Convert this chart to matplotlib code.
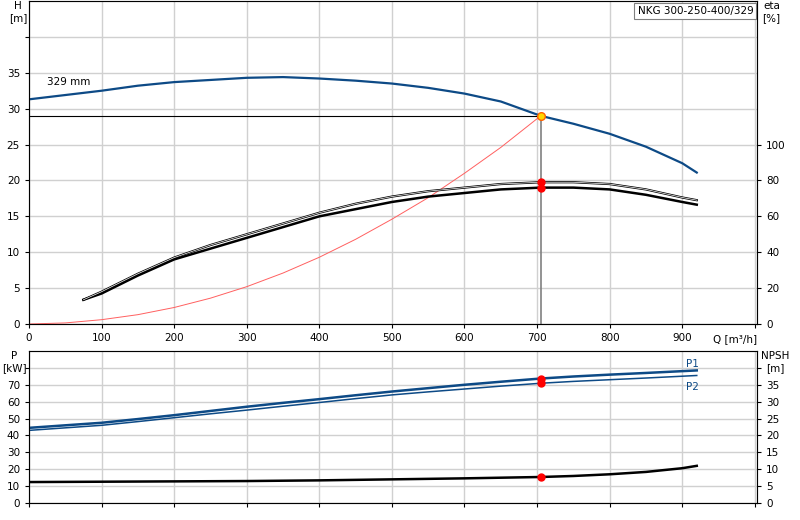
import matplotlib
matplotlib.use("Agg")
import matplotlib.pyplot as plt

q_h = [0, 50, 100, 150, 200, 250, 300, 350, 400, 450, 500, 550, 600, 650, 705, 750, 800, 850, 900, 920]
h = [31.3, 31.9, 32.5, 33.2, 33.7, 34.0, 34.3, 34.4, 34.2, 33.9, 33.5, 32.9, 32.1, 31.0, 29.0, 27.9, 26.5, 24.7, 22.4, 21.1]
q_sys = [0, 50, 100, 150, 200, 250, 300, 350, 400, 450, 500, 550, 600, 650, 705]
h_sys = [0, 0.15, 0.6, 1.3, 2.3, 3.6, 5.2, 7.1, 9.3, 11.8, 14.6, 17.6, 21.0, 24.6, 29.0]
q_eta = [75, 100, 150, 200, 250, 300, 350, 400, 450, 500, 550, 600, 650, 705, 750, 800, 850, 900, 920]
eta1 = [13.5, 18, 28, 37, 44, 50, 56, 62, 67, 71, 74, 76, 78, 79, 79, 78, 75, 70.5, 69]
eta2 = [13.5, 17, 27, 36, 42, 48, 54, 60, 64, 68, 71, 73, 75, 76, 76, 75, 72, 68, 66.5]
q_p = [0, 100, 150, 200, 250, 300, 350, 400, 450, 500, 550, 600, 650, 705, 750, 800, 850, 920]
p1 = [44.5, 47.5, 49.7, 52, 54.5, 57, 59.3, 61.5, 63.8, 66, 68, 70, 71.8, 73.7, 74.9, 76, 77, 78.5]
p2 = [43, 46, 48.2, 50.5, 52.8, 55, 57.3, 59.5, 61.8, 64, 65.8, 67.5, 69.2, 70.9, 72, 73, 74, 75.5]
q_npsh = [0, 100, 200, 300, 400, 500, 600, 705, 750, 800, 850, 900, 920]
npsh = [6.2, 6.3, 6.4, 6.5, 6.7, 7.0, 7.3, 7.7, 8.0, 8.5, 9.2, 10.3, 11.0]
duty_q, duty_h = 705, 29.0
title = "NKG 300-250-400/329"

blue = "#0d4a86"
fs = 7.5
fig = plt.figure(figsize=(8, 5.2), dpi=100)
ax = fig.add_axes([29/800, 1-324/520, 728/800, 323/520])
axb = fig.add_axes([29/800, 1-503/520, 728/800, 152/520])

for a in (ax, axb):
    a.set_xlim(0, 1003)
    a.set_xticks(range(0, 1001, 100))
    a.grid(True, color="#d0d0d0", lw=1)
    a.tick_params(labelsize=fs, length=3)
    for s in a.spines.values():
        s.set_color("#808080")

ax.set_ylim(0, 45)
ax.set_yticks(range(0, 41, 5))
ax.set_yticklabels([str(v) for v in range(0, 36, 5)] + [""])
ax.set_xticklabels([str(v) for v in range(0, 901, 100)] + [""])
axe = ax.twinx()
axe.set_ylim(0, 180)
axe.set_yticks(range(0, 101, 20))
axe.tick_params(labelsize=fs, length=3)

ax.plot(q_h, h, color=blue, lw=1.6)
ax.plot(q_sys, h_sys, color="#ff6060", lw=0.7)
ax.plot([0, duty_q], [duty_h, duty_h], color="black", lw=0.8)
ax.plot([duty_q, duty_q], [0, duty_h], color="#808080", lw=1.2)
ax.plot([duty_q], [duty_h], "o", ms=5.5, mfc="#ffd700", mec="#ff6000")
axe.plot(q_eta, eta1, color="black", lw=1.6)
axe.plot(q_eta, eta2, color="black", lw=1.8)
axe.plot(q_eta, eta1, color="white", lw=0.5)
axe.plot([duty_q, duty_q], [eta1[13], eta2[13]], "o", color="red", ms=5)
ax.text(25, 33.3, "329 mm", fontsize=fs)
ax.text(-0.015, 1.0, "H\n[m]", transform=ax.transAxes, ha="center", va="top", fontsize=fs, linespacing=1.3)
axe.text(1.02, 1.0, "eta\n[%]", transform=ax.transAxes, ha="center", va="top", fontsize=fs, linespacing=1.3)
ax.text(1.0, -0.03, "Q [m³/h]", transform=ax.transAxes, ha="right", va="top", fontsize=fs)
ax.text(0.995, 0.985, title, transform=ax.transAxes, ha="right", va="top", fontsize=fs,
        bbox=dict(boxstyle="square,pad=0.3", fc="white", ec="#808080", lw=0.8))

axb.set_ylim(0, 90)
axb.set_yticks(range(0, 81, 10))
axb.set_yticklabels([str(v) for v in range(0, 71, 10)] + [""])
axb.set_xticklabels([])
axn = axb.twinx()
axn.set_ylim(0, 45)
axn.set_yticks(range(0, 41, 5))
axn.set_yticklabels([str(v) for v in range(0, 36, 5)] + [""])
axn.tick_params(labelsize=fs, length=3)
axb.plot(q_p, p1, color=blue, lw=1.8)
axb.plot(q_p, p2, color=blue, lw=1.1)
axb.plot([duty_q, duty_q], [p1[13], p2[13]], "o", color="red", ms=5)
axb.text(905, 80.5, "P1", color=blue, fontsize=fs)
axb.text(905, 67, "P2", color=blue, fontsize=fs)
axn.plot(q_npsh, npsh, color="black", lw=1.8)
axn.plot([duty_q], [npsh[7]], "o", color="red", ms=5)
axb.text(-0.02, 1.0, "P\n[kW]", transform=axb.transAxes, ha="center", va="top", fontsize=fs, linespacing=1.3)
axb.text(1.025, 1.0, "NPSH\n[m]", transform=axb.transAxes, ha="center", va="top", fontsize=fs, linespacing=1.3)

fig.savefig("out.png", dpi=100)
